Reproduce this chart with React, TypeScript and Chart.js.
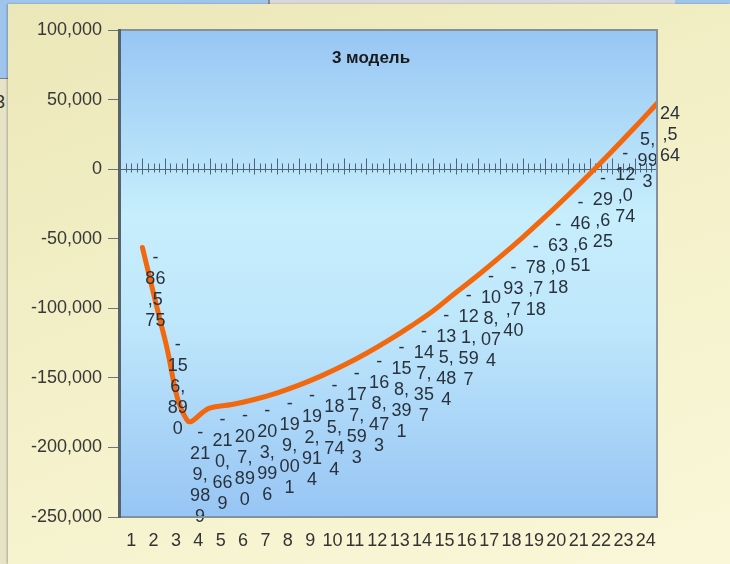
import React, { useEffect, useRef } from 'react';
import { Chart, registerables } from 'chart.js';

Chart.register(...registerables);

// Periods shown on the horizontal axis
const periods = [1, 2, 3, 4, 5, 6, 7, 8, 9, 10, 11, 12, 13, 14, 15, 16, 17, 18, 19, 20, 21, 22, 23, 24];

// Cumulative result per period (model 3)
const netValues = [
  -86575, -156890, -219989, -210669, -207890, -203996, -199001, -192914,
  -185744, -177593, -168473, -158391, -147357, -135484, -121597, -108074,
  -93740, -78718, -63018, -46651, -29625, -12074, 5993, 24564,
];

// Primary value axis ticks
const yTickValues = [-250000, -200000, -150000, -100000, -50000, 0, 50000, 100000];

const chartTitle = '3 модель';

const FONT = '"Liberation Sans", Arial, sans-serif';

const fmt = (v: number) => v.toLocaleString('en-US');

// Data labels are laid out in a narrow box: the sign on its own row, then pairs of characters
function wrapLabel(v: number): string[] {
  const s = fmt(v);
  const rows: string[] = [];
  let rest = s;
  if (s.startsWith('-')) {
    rows.push('-');
    rest = s.slice(1);
  }
  for (let i = 0; i < rest.length; i += 2) rows.push(rest.slice(i, i + 2));
  return rows;
}

const plotBackground = {
  id: 'plotBackground',
  beforeDraw(chart: any) {
    const { ctx, chartArea: a } = chart;
    const g = ctx.createLinearGradient(0, a.top, 0, a.bottom);
    g.addColorStop(0, '#97c6f4');
    g.addColorStop(0.38, '#c6eefc');
    g.addColorStop(0.6, '#bfe7fb');
    g.addColorStop(1, '#97c5f4');
    ctx.save();
    ctx.fillStyle = g;
    ctx.fillRect(a.left, a.top, a.right - a.left, a.bottom - a.top);
    ctx.restore();
  },
  afterDraw(chart: any) {
    const { ctx, chartArea: a } = chart;
    ctx.save();
    ctx.strokeStyle = '#86909a';
    ctx.lineWidth = 2;
    ctx.strokeRect(a.left, a.top, a.right - a.left, a.bottom - a.top);
    ctx.strokeStyle = '#56636f';
    ctx.lineWidth = 3;
    ctx.beginPath();
    ctx.moveTo(a.left - 0.5, a.top - 1);
    ctx.lineTo(a.left - 0.5, a.bottom + 1);
    ctx.stroke();
    ctx.restore();
  },
};

// Category axis drawn across the zero line, with major and minor tick marks
const zeroAxis = {
  id: 'zeroAxis',
  beforeDatasetsDraw(chart: any) {
    const { ctx, chartArea: a, scales } = chart;
    const y0 = Math.round(scales.y.getPixelForValue(0)) + 0.5;
    ctx.save();
    ctx.strokeStyle = '#4f6477';
    ctx.lineWidth = 1;
    ctx.beginPath();
    ctx.moveTo(a.left, y0);
    ctx.lineTo(a.right, y0);
    const steps = periods.length * 4;
    for (let k = 0; k <= steps; k++) {
      const x = Math.round(scales.x.getPixelForValue(periods[0] - 0.5 + k / 4)) + 0.5;
      const major = k % 4 === 0;
      ctx.moveTo(x, y0 - (major ? 11 : 6));
      ctx.lineTo(x, y0 + (major ? 5 : 3));
    }
    ctx.stroke();
    ctx.restore();
  },
};

const valueLabels = {
  id: 'valueLabels',
  afterDatasetsDraw(chart: any) {
    const { ctx, scales } = chart;
    const meta = chart.getDatasetMeta(0);
    const lh = 21;
    ctx.save();
    ctx.font = `18px ${FONT}`;
    ctx.fillStyle = '#28313c';
    ctx.textAlign = 'center';
    ctx.textBaseline = 'middle';
    meta.data.forEach((pt: any, i: number) => {
      const v = netValues[i];
      const rows = wrapLabel(v);
      const cx = pt.x + 13;
      const cy = scales.y.getPixelForValue(v);
      const top = cy - ((rows.length - 1) * lh) / 2;
      rows.forEach((r, k) => ctx.fillText(r, cx, top + k * lh));
    });
    ctx.restore();
  },
};

const titlePlugin = {
  id: 'innerTitle',
  afterDraw(chart: any) {
    const { ctx } = chart;
    ctx.save();
    ctx.font = `bold 17px ${FONT}`;
    ctx.fillStyle = '#1a1a1a';
    ctx.textAlign = 'center';
    ctx.textBaseline = 'middle';
    ctx.fillText(chartTitle, 371, 58);
    ctx.restore();
  },
};

function ChartCanvas() {
  const ref = useRef<HTMLCanvasElement | null>(null);
  useEffect(() => {
    if (!ref.current) return;
    const points = periods.map((p, i) => ({ x: p + 0.5, y: netValues[i] }));
    const chart = new Chart(ref.current, {
      type: 'line',
      data: {
        datasets: [
          {
            data: points,
            yAxisID: 'y2',
            borderColor: '#f2680f',
            borderWidth: 5,
            pointRadius: 0,
            tension: 0.4,
            fill: false,
            borderCapStyle: 'round',
            borderJoinStyle: 'round',
          },
        ],
      },
      options: {
        animation: false,
        responsive: false,
        devicePixelRatio: 1,
        layout: { padding: { left: 0, top: 30, right: 73, bottom: 0 } },
        plugins: {
          legend: { display: false },
          tooltip: { enabled: false },
          title: { display: false },
        },
        scales: {
          x: {
            type: 'linear',
            min: 0.5,
            max: 24.5,
            afterBuildTicks: (s: any) => {
              s.ticks = periods.map((v) => ({ value: v }));
            },
            afterFit: (s: any) => {
              s.height = 47;
            },
            ticks: {
              callback: (v: any) => String(v),
              font: { family: FONT, size: 18 },
              color: '#333333',
              padding: 13,
              maxRotation: 0,
              autoSkip: false,
            },
            grid: { display: false, drawTicks: false, tickLength: 0 },
            border: { display: false },
          },
          y: {
            min: -250000,
            max: 100000,
            afterBuildTicks: (s: any) => {
              s.ticks = yTickValues.map((v) => ({ value: v }));
            },
            afterFit: (s: any) => {
              s.width = 120;
            },
            ticks: {
              callback: (v: any) => fmt(Number(v)),
              font: { family: FONT, size: 18 },
              color: '#383838',
              padding: 6,
            },
            grid: { drawOnChartArea: false, drawTicks: true, tickLength: 12, color: '#6c747c' },
            border: { display: false },
          },
          y2: {
            display: false,
            min: -294700,
            max: 81300,
          },
        },
      },
      plugins: [plotBackground, zeroAxis, valueLabels, titlePlugin],
    });
    return () => chart.destroy();
  }, []);
  return (
    <canvas
      ref={ref}
      width={730}
      height={564}
      style={{ position: 'absolute', left: 0, top: 0, width: 730, height: 564 }}
    />
  );
}

export default function App() {
  return (
    <div
      style={{
        position: 'fixed',
        left: 0,
        top: 0,
        width: 730,
        height: 564,
        overflow: 'hidden',
        background: '#9fc5ec',
        fontFamily: FONT,
      }}
    >
      <div style={{ position: 'absolute', left: 268, top: 0, width: 405, height: 4, background: '#d8d8d8', borderLeft: '2px solid #8a8a8a' }} />
      <div style={{ position: 'absolute', left: 0, top: 78, width: 10, height: 486, background: '#e6e3c6', borderTop: '1px solid #7d7d7d' }} />
      <span style={{ position: 'absolute', left: -5, top: 92, fontSize: 18, color: '#333' }}>3</span>
      <div
        style={{
          position: 'absolute',
          left: 8,
          top: 4,
          width: 722,
          height: 560,
          background: 'linear-gradient(160deg, #ebe7b8 0%, #f3f0c8 45%, #f9f7d8 100%)',
          boxShadow: '-1px 0 2px rgba(0,0,0,0.25)',
        }}
      />
      <ChartCanvas />
    </div>
  );
}
